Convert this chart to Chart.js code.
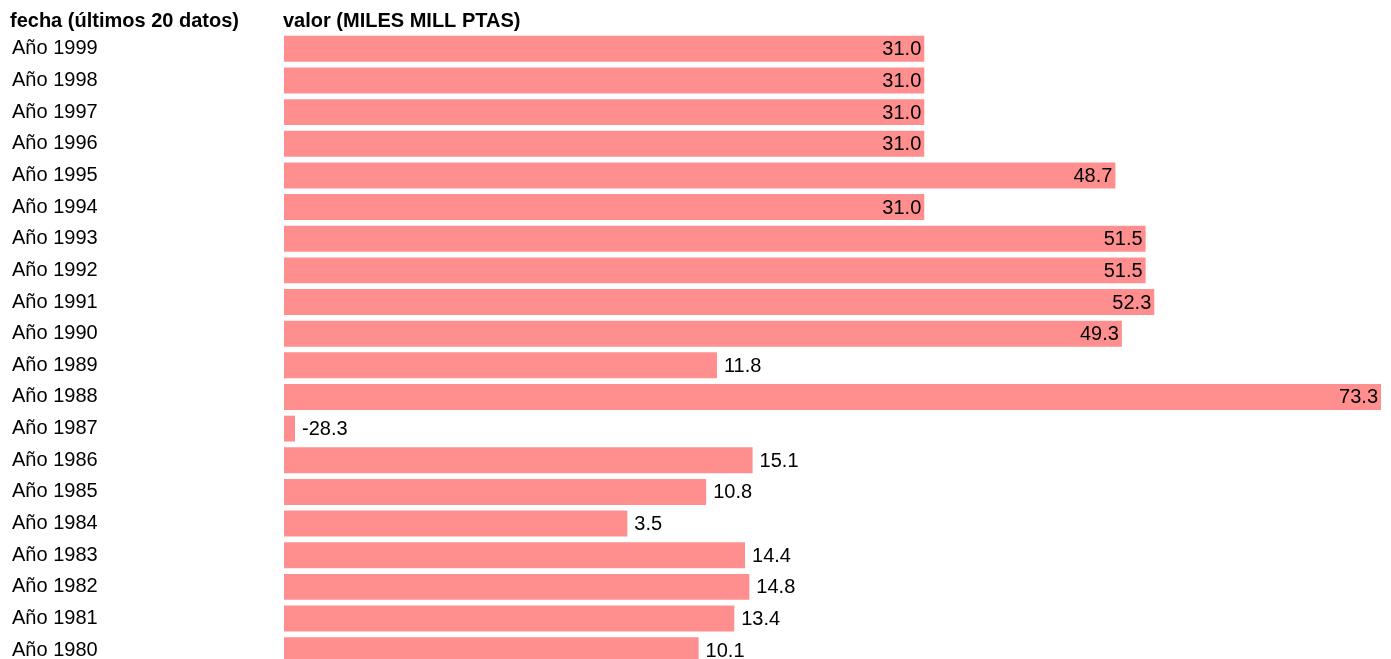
<!DOCTYPE html>
<html>
<head>
<meta charset="utf-8">
<script src="https://cdn.jsdelivr.net/npm/chart.js@4"></script>
<style>
  html, body { margin: 0; padding: 0; background: #fff; overflow: hidden; height: 659px; }
  #wrap { position: relative; width: 1391px; height: 659px; overflow: hidden; }
  canvas { display: block; position: absolute; left: 0; top: 0; }
</style>
</head>
<body>
<div id="wrap"><canvas id="c" width="1391" height="670"></canvas></div>
<script>
const categories = ['Año 1999','Año 1998','Año 1997','Año 1996','Año 1995','Año 1994','Año 1993','Año 1992','Año 1991','Año 1990',
                    'Año 1989','Año 1988','Año 1987','Año 1986','Año 1985','Año 1984','Año 1983','Año 1982','Año 1981','Año 1980'];
const values = [31.0, 31.0, 31.0, 31.0, 48.7, 31.0, 51.5, 51.5, 52.3, 49.3,
                11.8, 73.3, -28.3, 15.1, 10.8, 3.5, 14.4, 14.8, 13.4, 10.1];
const headerLeft = 'fecha (últimos 20 datos)';
const headerRight = 'valor (MILES MILL PTAS)';

const FONT = '"Liberation Sans", Arial, sans-serif';
const axisMin = Math.min(...values);
const axisMax = Math.max(...values);

const labelPlugin = {
  id: 'valueLabels',
  afterDatasetsDraw(chart) {
    const ctx = chart.ctx;
    const xs = chart.scales.x;
    const mid = (xs.min + xs.max) / 2;
    const meta = chart.getDatasetMeta(0);
    ctx.save();
    ctx.font = '20px ' + FONT;
    ctx.fillStyle = '#000';
    ctx.textBaseline = 'middle';
    meta.data.forEach((bar, i) => {
      const v = values[i];
      const txt = v.toFixed(1);
      if (v > mid) {
        ctx.textAlign = 'right';
        ctx.fillText(txt, bar.x - 3, bar.y + 1);
      } else {
        ctx.textAlign = 'left';
        ctx.fillText(txt, bar.x + 7, bar.y + 1);
      }
    });
    ctx.restore();
  }
};

const headerPlugin = {
  id: 'headers',
  afterDraw(chart) {
    const ctx = chart.ctx;
    ctx.save();
    ctx.font = 'bold 20px ' + FONT;
    ctx.fillStyle = '#000';
    ctx.textBaseline = 'middle';
    ctx.textAlign = 'left';
    ctx.fillText(headerLeft, 10, 21);
    ctx.fillText(headerRight, chart.chartArea.left - 1, 21);
    ctx.restore();
  }
};

new Chart(document.getElementById('c'), {
  type: 'bar',
  data: {
    labels: categories,
    datasets: [{
      data: values,
      backgroundColor: '#ff8f8f',
      borderWidth: 0,
      base: axisMin,
      minBarLength: 11,
      barPercentage: 0.82,
      categoryPercentage: 1.0
    }]
  },
  options: {
    indexAxis: 'y',
    responsive: false,
    maintainAspectRatio: false,
    devicePixelRatio: 1,
    animation: false,
    layout: { padding: { left: 12, right: 10, top: 33, bottom: 4 } },
    plugins: { legend: { display: false }, tooltip: { enabled: false }, title: { display: false } },
    scales: {
      x: { display: false, min: axisMin, max: axisMax },
      y: {
        grid: { display: false },
        border: { display: false },
        ticks: {
          autoSkip: false,
          crossAlign: 'far',
          color: '#000',
          padding: 0,
          font: { family: FONT, size: 20 }
        },
        afterFit(scale) {
          scale.width = 272;
          scale.paddingTop = 0;
          scale.paddingBottom = 0;
        }
      }
    }
  },
  plugins: [labelPlugin, headerPlugin]
});
</script>
</body>
</html>
